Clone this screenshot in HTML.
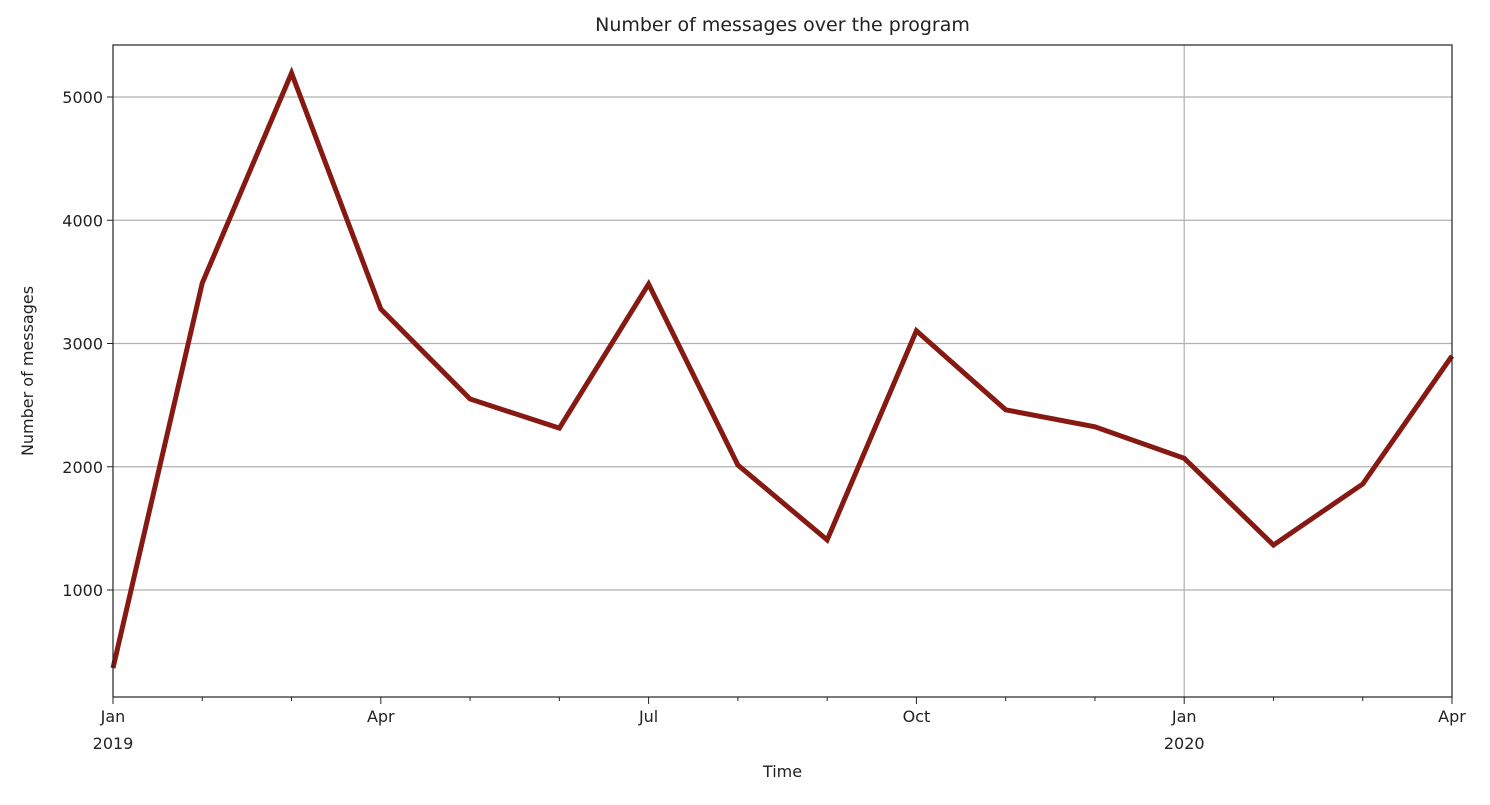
<!DOCTYPE html>
<html><head><meta charset="utf-8"><style>
body{margin:0;background:#fff;}
svg text{font-family:"DejaVu Sans","Liberation Sans",sans-serif;fill:#222;}
</style></head><body>
<svg id="chart" width="1490" height="800" xmlns="http://www.w3.org/2000/svg"></svg>
<script>
const months = ["2019-01","2019-02","2019-03","2019-04","2019-05","2019-06","2019-07","2019-08","2019-09","2019-10","2019-11","2019-12","2020-01","2020-02","2020-03","2020-04"];
const messages = [367,3491,5194,3280,2550,2313,3482,2014,1406,3103,2462,2324,2069,1365,1860,2899];
const yTicks = [1000,2000,3000,4000,5000];
const xTickLabels = [["Jan","2019"],["Apr",""],["Jul",""],["Oct",""],["Jan","2020"],["Apr",""]];
const xTickIdx = [0,3,6,9,12,15];

const L=113,R=1452,T=45,B=697;
const NS="http://www.w3.org/2000/svg";
const svg=document.getElementById('chart');
const xs=i=>L+(R-L)*i/(months.length-1);
const ys=v=>713.25-v*0.12325;
function mk(tag,attrs,parent){const e=document.createElementNS(NS,tag);for(const k in attrs)e.setAttribute(k,attrs[k]);(parent||svg).appendChild(e);return e;}

// grid
yTicks.forEach(v=>{
  const g=mk('line',{x1:L,x2:R,y1:ys(v),y2:ys(v),stroke:'#b0b0b0','stroke-width':1.2});
  
  
  const t=mk('line',{x1:L-6,x2:L,y1:ys(v),y2:ys(v),stroke:'#222','stroke-width':1});
  
  
  const lb=mk('text',{x:L-10,y:ys(v)+6,'text-anchor':'end','font-size':16});
  lb.textContent=v;
  
  
});
// vertical grid at Jan 2020
const vg=mk('line',{x1:xs(12),x2:xs(12),y1:T,y2:B,stroke:'#b0b0b0','stroke-width':1.2});


// minor ticks
months.forEach((m,i)=>{
  const major=xTickIdx.includes(i);
  const t=mk('line',{x1:xs(i),x2:xs(i),y1:B,y2:B+(major?7:4),stroke:'#222','stroke-width':1});
  
  
});
xTickIdx.forEach((idx,k)=>{
  const lb=mk('text',{x:xs(idx),y:B+25,'text-anchor':'middle','font-size':16});
  lb.textContent=xTickLabels[k][0];
  
  
  if(xTickLabels[k][1]){
    const l2=mk('text',{x:xs(idx),y:B+52,'text-anchor':'middle','font-size':16});
    l2.textContent=xTickLabels[k][1];
    
    
  }
});
// line
const line=mk('polyline',{points:messages.map((v,i)=>xs(i)+','+ys(v)).join(' '),fill:'none',stroke:'#861a12','stroke-width':5,'stroke-linejoin':'miter'});


// frame
const fr=mk('rect',{x:L,y:T,width:R-L,height:B-T,fill:'none',stroke:'#222','stroke-width':1.2});


// titles
const ti=mk('text',{x:(L+R)/2,y:31,'text-anchor':'middle','font-size':19});
ti.textContent='Number of messages over the program';


const xt=mk('text',{x:(L+R)/2,y:777,'text-anchor':'middle','font-size':16});
xt.textContent='Time';


const yt=mk('text',{x:33,y:(T+B)/2,'text-anchor':'middle','font-size':16,transform:'rotate(-90 33 '+((T+B)/2)+')'});
yt.textContent='Number of messages';


</script>
</body></html>
